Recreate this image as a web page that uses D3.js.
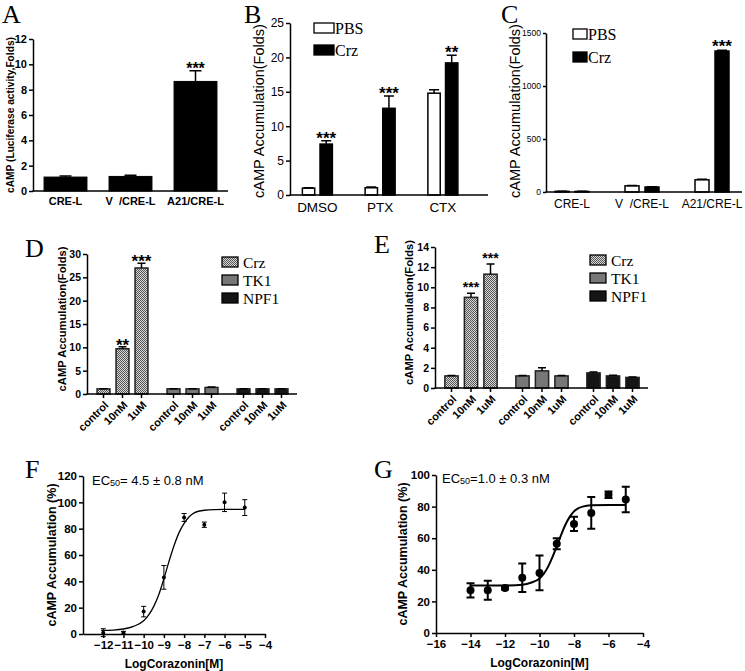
<!DOCTYPE html>
<html><head><meta charset="utf-8">
<script src="https://cdn.jsdelivr.net/npm/d3@7"></script>
<style>
body{margin:0;background:#fff}
svg{display:block}
</style></head><body>
<svg id="fig" width="745" height="671"></svg>
<script>
// ---------------- DATA ----------------
const aCategories = ["CRE-L", "V  /CRE-L", "A21/CRE-L"];
const aValues = [1.1, 1.15, 8.65];
const aErrors = [0.08, 0.1, 0.85];
const aStars = ["", "", "***"];
const aYTicks = [0, 2, 4, 6, 8, 10, 12];

const bCategories = ["DMSO", "PTX", "CTX"];
const bSeries = ["PBS", "Crz"];
const bPBS = [1.0, 1.05, 14.8];
const bPBSErr = [0.05, 0.1, 0.5];
const bCrz = [7.4, 12.6, 19.2];
const bCrzErr = [0.5, 1.8, 1.1];
const bStars = ["***", "***", "**"];
const bYTicks = [0, 5, 10, 15, 20, 25];

const cCategories = ["CRE-L", "V  /CRE-L", "A21/CRE-L"];
const cPBS = [6, 58, 115];
const cPBSErr = [1, 4, 6];
const cCrz = [5, 47, 1330];
const cCrzErr = [1, 3, 8];
const cStars = ["", "", "***"];
const cYTicks = [0, 500, 1000, 1500];

const deGroups = ["Crz", "TK1", "NPF1"];
const deDoses = ["control", "10nM", "1uM"];

const dCrz = [1.1, 9.7, 27.0];
const dCrzErr = [0.05, 0.4, 1.0];
const dTK1 = [1.1, 1.1, 1.4];
const dTK1Err = [0.05, 0.05, 0.1];
const dNPF1 = [1.1, 1.1, 1.1];
const dNPF1Err = [0.05, 0.05, 0.05];
const dCrzStars = ["", "**", "***"];
const dYTicks = [0, 5, 10, 15, 20, 25, 30];

const eCrz = [1.2, 9.0, 11.3];
const eCrzErr = [0.05, 0.4, 1.0];
const eTK1 = [1.2, 1.7, 1.2];
const eTK1Err = [0.05, 0.3, 0.05];
const eNPF1 = [1.5, 1.2, 1.05];
const eNPF1Err = [0.08, 0.06, 0.04];
const eCrzStars = ["", "***", "***"];
const eYTicks = [0, 2, 4, 6, 8, 10, 12, 14];

const fLogDose = [-12, -11, -10, -9, -8, -7, -6, -5];
const fMean = [1, 1, 17, 43, 88.5, 83, 100, 96];
const fErr = [3, 1, 4, 9, 3, 2, 7, 6];
const fFitX = [-12.1, -11.5, -11, -10.5, -10, -9.75, -9.5, -9.25, -9, -8.75, -8.5, -8.25, -8, -7.75, -7.5, -7, -6.5, -6, -5];
const fFitY = [2.7, 3.0, 3.8, 5.8, 10, 14.5, 21, 30, 42, 55, 67, 77, 84, 89, 92, 94, 94.5, 94.6, 94.6];
const fXTicks = [-12, -11, -10, -9, -8, -7, -6, -5, -4];
const fYTicks = [0, 20, 40, 60, 80, 100, 120];

const gLogDose = [-14, -13, -12, -11, -10, -9, -8, -7, -6, -5];
const gMean = [27, 27, 28.5, 35, 38, 56.5, 69, 76, 87.5, 84.5];
const gErr = [4.5, 6, 1, 9, 11, 3.5, 4.5, 10, 2, 8];
const gFitX = [-14, -13, -12, -11, -10.5, -10, -9.75, -9.5, -9.25, -9, -8.75, -8.5, -8.25, -8, -7.5, -7, -6, -5];
const gFitY = [30, 30, 30.1, 30.6, 31.8, 34.5, 37.5, 42, 48, 55, 62, 68.5, 73.5, 77, 80, 80.8, 81, 81];
const gXTicks = [-16, -14, -12, -10, -8, -6, -4];
const gYTicks = [0, 20, 40, 60, 80, 100];

// ---------------- SETUP ----------------
const SANS = '"Liberation Sans", Arial, Helvetica, sans-serif';
const SERIF = '"Liberation Serif", "Times New Roman", serif';
const svg = d3.select('#fig');
const defs = svg.append('defs');
const pat = defs.append('pattern').attr('id', 'chk').attr('patternUnits', 'userSpaceOnUse').attr('width', 2).attr('height', 2);
pat.append('rect').attr('width', 2).attr('height', 2).attr('fill', '#d8d8d8');
pat.append('rect').attr('width', 1).attr('height', 1).attr('fill', '#555');
pat.append('rect').attr('x', 1).attr('y', 1).attr('width', 1).attr('height', 1).attr('fill', '#555');

function finish(g, fs, fw) {
  g.attr('font-family', null).attr('font-size', null);
  g.select('.domain').attr('stroke', '#000').attr('stroke-width', 1.5);
  g.selectAll('.tick line').attr('stroke', '#000').attr('stroke-width', 1.5);
  g.selectAll('.tick text').attr('fill', '#000').style('font-family', SANS)
    .style('font-size', fs + 'px').style('font-weight', fw).style('white-space', 'pre');
}
function leftAxis(x, y, ticks, fs, fw, len) {
  const g = svg.append('g').attr('transform', `translate(${x},0)`);
  g.call(d3.axisLeft(y).tickValues(ticks).tickSizeInner(len).tickSizeOuter(0).tickPadding(2).tickFormat(d3.format('d')));
  finish(g, fs, fw);
  return g;
}
function baseLine(x0, x1, y) {
  svg.append('line').attr('x1', x0).attr('x2', x1).attr('y1', y).attr('y2', y)
    .attr('stroke', '#000').attr('stroke-width', 1.5);
}
function bandLabels(scale, y, fs, fw, pad) {
  const g = svg.append('g').attr('transform', `translate(0,${y})`);
  g.call(d3.axisBottom(scale).tickSize(0).tickPadding(pad));
  g.select('.domain').remove();
  finish(g, fs, fw);
}
function yTitle(txt, x, y, fs, fw) {
  svg.append('text').attr('transform', `translate(${x},${y}) rotate(-90)`)
    .attr('text-anchor', 'middle').attr('dominant-baseline', 'central')
    .style('font-family', SANS).style('font-size', fs + 'px').style('font-weight', fw).text(txt);
}
function drawBars(items, y, o) {
  const g = svg.append('g');
  g.selectAll('rect').data(items).join('rect')
    .attr('x', d => d.x).attr('width', d => d.w)
    .attr('y', d => y(d.v)).attr('height', d => y(0) - y(d.v))
    .attr('fill', d => d.fill).attr('stroke', o.stroke || '#000').attr('stroke-width', o.sw);
  g.selectAll('path').data(items).join('path')
    .attr('d', d => {
      const cx = d.x + d.w / 2, t = y(d.v + d.e);
      return `M${cx},${y(d.v)}V${t}M${cx - o.cap / 2},${t}h${o.cap}`;
    })
    .attr('stroke', '#000').attr('stroke-width', o.ew).attr('fill', 'none');
  g.selectAll('text').data(items.filter(d => d.star)).join('text')
    .attr('x', d => d.x + d.w / 2)
    .attr('y', d => y(d.v + d.e) - o.gap + 0.42 * o.sfs)
    .attr('text-anchor', 'middle')
    .style('font-family', SANS).style('font-weight', 'bold').style('font-size', o.sfs + 'px')
    .text(d => d.star);
}
function letter(t, x, y) {
  svg.append('text').attr('x', x).attr('y', y).style('font-family', SERIF).style('font-size', '26px').text(t);
}
function legend(entries, x, y0, dy, bw, bh, fs, tx) {
  const g = svg.append('g');
  entries.forEach((e, i) => {
    g.append('rect').attr('x', x).attr('y', y0 + i * dy).attr('width', bw).attr('height', bh)
      .attr('fill', e.fill).attr('stroke', e.stroke || '#000').attr('stroke-width', 1.3);
    g.append('text').attr('x', x + bw + tx).attr('y', y0 + i * dy + bh + 0.5)
      .style('font-family', SERIF).style('font-size', fs + 'px').text(e.name);
  });
}

// ---------------- PANEL A ----------------
{
  const y = d3.scaleLinear().domain([0, 12]).range([191, 39]);
  const x = d3.scaleBand().domain(aCategories).range([33, 228]).paddingInner(0.34).paddingOuter(0.17);
  drawBars(aCategories.map((c, i) => ({ x: x(c), w: x.bandwidth(), v: aValues[i], e: aErrors[i], fill: '#000', star: aStars[i] })),
    y, { sw: 1, ew: 1.5, cap: 12, gap: 3.5, sfs: 16 });
  leftAxis(33, y, aYTicks, 11, 'bold', 4);
  baseLine(32.5, 228, 191);
  bandLabels(x, 191, 11, 'bold', 6);
  yTitle("cAMP (Luciferase activity,Folds)", 10, 115, 10.2, 'bold');
  letter("A", 2, 23);
}

// ---------------- PANEL B ----------------
{
  const y = d3.scaleLinear().domain([0, 25]).range([195, 23]);
  const x = d3.scaleBand().domain(bCategories).range([286, 474.25]);
  const s = d3.scaleBand().domain(bSeries).range([-15, 15]).paddingInner(0.3);
  const items = [];
  bCategories.forEach((c, i) => {
    const cx = x(c) + x.bandwidth() / 2;
    items.push({ x: cx + s("PBS"), w: s.bandwidth(), v: bPBS[i], e: bPBSErr[i], fill: '#fff' });
    items.push({ x: cx + s("Crz"), w: s.bandwidth(), v: bCrz[i], e: bCrzErr[i], fill: '#000', star: bStars[i] });
  });
  drawBars(items, y, { sw: 1.5, ew: 1.5, cap: 10, gap: 4, sfs: 17 });
  leftAxis(290, y, bYTicks, 12, 'normal', 4);
  baseLine(289.5, 488, 195);
  bandLabels(x, 195, 13.5, 'normal', 7);
  yTitle("cAMP Accumulation(Folds)", 259, 111, 14.5, 'normal');
  legend([{ name: "PBS", fill: '#fff' }, { name: "Crz", fill: '#000' }], 314, 23, 22, 20, 10, 16, 1);
  letter("B", 244, 23);
}

// ---------------- PANEL C ----------------
{
  const y = d3.scaleLinear().domain([0, 1500]).range([192, 33]);
  const x = d3.scaleBand().domain(cCategories).range([537, 747]);
  const s = d3.scaleBand().domain(bSeries).range([-17, 17]).paddingInner(0.3);
  const items = [];
  cCategories.forEach((c, i) => {
    const cx = x(c) + x.bandwidth() / 2;
    items.push({ x: cx + s("PBS"), w: s.bandwidth(), v: cPBS[i], e: cPBSErr[i], fill: '#fff' });
    items.push({ x: cx + s("Crz"), w: s.bandwidth(), v: cCrz[i], e: cCrzErr[i], fill: '#000', star: cStars[i] });
  });
  drawBars(items, y, { sw: 1.5, ew: 1.5, cap: 10, gap: 5, sfs: 17 });
  leftAxis(546, y, cYTicks, 8.5, 'normal', 3);
  baseLine(545.5, 742, 192);
  bandLabels(x, 192, 12, 'normal', 7);
  yTitle("cAMP Accumulation(Folds)", 515, 111, 14.5, 'normal');
  legend([{ name: "PBS", fill: '#fff' }, { name: "Crz", fill: '#000' }], 573, 29, 23, 14, 10, 16, 1);
  letter("C", 501, 23);
}

// ---------------- PANELS D & E ----------------
function dosePanel(cfg) {
  const y = d3.scaleLinear().domain([0, cfg.ymax]).range([cfg.y0, cfg.y1]);
  const x = d3.scaleBand().domain(deGroups).range(cfg.xr);
  const s = d3.scaleBand().domain(deDoses).range([-cfg.half, cfg.half]).paddingInner(0.32).paddingOuter(0.16);
  const fills = ['url(#chk)', '#777', '#151515'];
  const items = [];
  deGroups.forEach((gname, gi) => {
    const cx = x(gname) + x.bandwidth() / 2;
    deDoses.forEach((dname, di) => {
      items.push({ x: cx + s(dname), w: s.bandwidth(), v: cfg.vals[gi][di], e: cfg.errs[gi][di], fill: fills[gi],
        star: gi === 0 ? cfg.stars[di] : '', group: gname, dose: dname });
    });
  });
  drawBars(items, y, { sw: 1.5, stroke: '#222', ew: 1.5, cap: 8, gap: cfg.gap, sfs: cfg.sfs });
  leftAxis(cfg.ax, y, cfg.ticks, 10.5, 'bold', 4);
  baseLine(cfg.ax - 0.5, cfg.axEnd, cfg.y0);
  const tg = svg.append('g');
  items.forEach(d => {
    const cx = d.x + d.w / 2;
    tg.append('line').attr('x1', cx).attr('x2', cx).attr('y1', cfg.y0).attr('y2', cfg.y0 + 4).attr('stroke', '#000').attr('stroke-width', 1.5);
    tg.append('text').attr('transform', `translate(${cx + 3},${cfg.y0 + 9}) rotate(-45)`)
      .attr('text-anchor', 'end').attr('dy', '0.35em')
      .style('font-family', SANS).style('font-weight', 'bold').style('font-size', '11px').text(d.dose);
  });
  yTitle("cAMP Accumulation(Folds)", cfg.tx, (cfg.y0 + cfg.y1) / 2 - 5, 11.2, 'bold');
  legend([{ name: "Crz", fill: 'url(#chk)' }, { name: "TK1", fill: '#777' }, { name: "NPF1", fill: '#151515' }],
    cfg.lx, cfg.ly, 18, 16, 10, 15.5, 5);
}
dosePanel({ ymax: 30, y0: 394, y1: 254, xr: [87.5, 297.5], half: 28.5, ax: 87, axEnd: 297, ticks: dYTicks,
  vals: [dCrz, dTK1, dNPF1], errs: [dCrzErr, dTK1Err, dNPF1Err], stars: dCrzStars, gap: 3, sfs: 17, tx: 62, lx: 222, ly: 257 });
letter("D", 25, 257);
dosePanel({ ymax: 14, y0: 388, y1: 247, xr: [435.5, 648.5], half: 29.25, ax: 435, axEnd: 648, ticks: eYTicks,
  vals: [eCrz, eTK1, eNPF1], errs: [eCrzErr, eTK1Err, eNPF1Err], stars: eCrzStars, gap: 7.5, sfs: 14, tx: 409, lx: 590, ly: 255 });
letter("E", 374, 253);

// ---------------- PANELS F & G ----------------
function dosePlot(cfg) {
  const x = d3.scaleLinear().domain(cfg.xd).range(cfg.xr);
  const y = d3.scaleLinear().domain(cfg.yd).range(cfg.yr);
  const gx = svg.append('g').attr('transform', `translate(0,${cfg.yr[0]})`);
  gx.call(d3.axisBottom(x).tickValues(cfg.xt).tickSizeInner(4).tickSizeOuter(0).tickPadding(3).tickFormat(d3.format('d')));
  finish(gx, cfg.tfs, 'bold');
  const gy = svg.append('g').attr('transform', `translate(${cfg.xr[0]},0)`);
  gy.call(d3.axisLeft(y).tickValues(cfg.yt).tickSizeInner(4).tickSizeOuter(0).tickPadding(2).tickFormat(d3.format('d')));
  finish(gy, cfg.tfs, 'bold');
  const line = d3.line().x((d, i) => x(cfg.fx[i])).y(d => y(d)).curve(d3.curveMonotoneX);
  svg.append('path').datum(cfg.fy).attr('d', line).attr('fill', 'none').attr('stroke', '#000').attr('stroke-width', cfg.lw);
  const pts = cfg.dose.map((d, i) => ({ x: d, m: cfg.mean[i], e: cfg.err[i] }));
  svg.append('g').selectAll('path').data(pts).join('path')
    .attr('d', d => `M${x(d.x)},${y(d.m - d.e)}V${y(d.m + d.e)}M${x(d.x) - cfg.cap / 2},${y(d.m - d.e)}h${cfg.cap}M${x(d.x) - cfg.cap / 2},${y(d.m + d.e)}h${cfg.cap}`)
    .attr('stroke', '#000').attr('stroke-width', cfg.ew).attr('fill', 'none');
  svg.append('g').selectAll('circle').data(pts).join('circle')
    .attr('cx', d => x(d.x)).attr('cy', d => y(d.m)).attr('r', cfg.r).attr('fill', '#000');
  svg.append('text').attr('x', (cfg.xr[0] + cfg.xr[1]) / 2).attr('y', cfg.yr[0] + 34).attr('text-anchor', 'middle')
    .style('font-family', SANS).style('font-weight', 'bold').style('font-size', '12px').text("LogCorazonin[M]");
  yTitle("cAMP Accumulation (%)", cfg.tx, (cfg.yr[0] + cfg.yr[1]) / 2, 12.5, 'bold');
  const t = svg.append('text').attr('x', cfg.ecx).attr('y', cfg.ecy).style('font-family', SANS).style('font-size', '13px');
  t.append('tspan').text('EC');
  t.append('tspan').style('font-size', '9px').attr('dy', 1).text('50');
  t.append('tspan').attr('dy', -1).text(cfg.ec);
}
dosePlot({ xd: [-13, -4], xr: [83, 265], yd: [0, 120], yr: [634, 476], xt: fXTicks, yt: fYTicks, tfs: 11.5,
  fx: fFitX, fy: fFitY, dose: fLogDose, mean: fMean, err: fErr, lw: 1.3, ew: 1, cap: 5, r: 2,
  tx: 52, ecx: 92, ecy: 485, ec: "= 4.5 ± 0.8 nM" });
letter("F", 25, 478);
dosePlot({ xd: [-16, -4], xr: [436, 643], yd: [0, 100], yr: [633, 475], xt: gXTicks, yt: gYTicks, tfs: 11.5,
  fx: gFitX, fy: gFitY, dose: gLogDose, mean: gMean, err: gErr, lw: 2, ew: 2, cap: 8, r: 4,
  tx: 403, ecx: 442, ecy: 483, ec: "=1.0 ± 0.3 nM" });
letter("G", 374, 478);
</script>
</body></html>
